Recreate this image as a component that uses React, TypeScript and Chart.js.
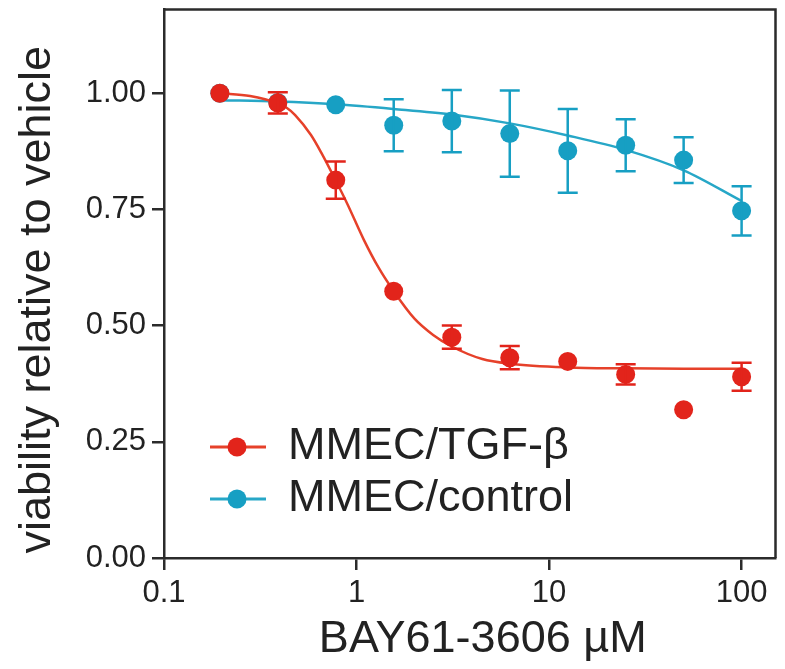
import React, { useEffect, useRef } from 'react';
import { Chart, registerables } from 'chart.js';

Chart.register(...registerables);

// ---- data ----
const doses = [0.195, 0.39, 0.78, 1.56, 3.125, 6.25, 12.5, 25, 50, 100];
const tgfMean = [1.0, 0.979, 0.813, 0.574, 0.475, 0.431, 0.423, 0.395, 0.319, 0.39];
const tgfErr = [0, 0.023, 0.04, 0, 0.025, 0.025, 0, 0.022, 0, 0.03];
const ctrlMean = [1.0, 0.98, 0.975, 0.931, 0.94, 0.913, 0.876, 0.888, 0.856, 0.747];
const ctrlErr = [0, 0, 0, 0.056, 0.067, 0.093, 0.09, 0.056, 0.049, 0.053];

const tgfFitX = [0.195, 0.28, 0.39, 0.435, 0.48, 0.58, 0.66, 0.78, 0.9, 1.09, 1.3, 1.56, 2.0, 2.5, 3.125, 4.5, 6.25, 12.5, 25, 50, 100];
const tgfFitY = [1.0, 0.994, 0.978, 0.968, 0.953, 0.91, 0.87, 0.812, 0.76, 0.685, 0.625, 0.574, 0.515, 0.48, 0.455, 0.428, 0.418, 0.41, 0.408, 0.407, 0.407];
const ctrlFitX = [0.195, 0.39, 0.78, 1.56, 3.125, 6.25, 12.5, 25, 50, 100];
const ctrlFitY = [0.985, 0.982, 0.976, 0.966, 0.954, 0.935, 0.909, 0.878, 0.834, 0.768];

const seriesNames = ['MMEC/TGF-β', 'MMEC/control'];
const xTicks = [0.1, 1, 10, 100];
const yTicks = [0, 0.25, 0.5, 0.75, 1.0];
const xTitle = 'BAY61-3606 µM';
const yTitle = 'viability relative to vehicle';

// ---- styles ----
const RED = '#e2241b';
const RED_LINE = '#e6412a';
const BLUE = '#179fc3';
const BLUE_LINE = '#27a7c7';
const AXIS = '#2b2b2b';
const TEXT = '#222222';
const FONT = '"Liberation Sans", Arial, Helvetica, sans-serif';

export default function App() {
  const ref = useRef<HTMLCanvasElement>(null);

  useEffect(() => {
    const canvas = ref.current;
    if (!canvas) return;

    const errorBars = {
      id: 'errorBars',
      afterDatasetsDraw(chart: any) {
        const { ctx, scales } = chart;
        const xs = scales.x;
        const ys = scales.y;
        const groups = [
          { mean: ctrlMean, err: ctrlErr, color: BLUE },
          { mean: tgfMean, err: tgfErr, color: RED },
        ];
        ctx.save();
        ctx.lineWidth = 2.5;
        for (const g of groups) {
          ctx.strokeStyle = g.color;
          for (let i = 0; i < doses.length; i++) {
            if (!g.err[i]) continue;
            const x = xs.getPixelForValue(doses[i]);
            const y1 = ys.getPixelForValue(g.mean[i] + g.err[i]);
            const y2 = ys.getPixelForValue(g.mean[i] - g.err[i]);
            ctx.beginPath();
            ctx.moveTo(x, y1);
            ctx.lineTo(x, y2);
            ctx.moveTo(x - 10, y1);
            ctx.lineTo(x + 10, y1);
            ctx.moveTo(x - 10, y2);
            ctx.lineTo(x + 10, y2);
            ctx.stroke();
          }
        }
        ctx.restore();
      },
    };

    const frame = {
      id: 'frame',
      afterDraw(chart: any) {
        const { ctx, chartArea: a } = chart;
        ctx.save();
        ctx.strokeStyle = AXIS;
        ctx.lineWidth = 2.5;
        ctx.beginPath();
        ctx.moveTo(a.left, a.top);
        ctx.lineTo(a.right, a.top);
        ctx.lineTo(a.right, a.bottom);
        ctx.stroke();

        // axis titles
        ctx.fillStyle = TEXT;
        ctx.font = `45px ${FONT}`;
        ctx.textAlign = 'center';
        ctx.textBaseline = 'middle';
        ctx.fillText(xTitle, (a.left + a.right) / 2 + 13, 640);
        ctx.save();
        ctx.translate(38, (a.top + a.bottom) / 2 + 16);
        ctx.rotate(-Math.PI / 2);
        ctx.fillText(yTitle, 0, 0);
        ctx.restore();

        // legend
        const items = [
          { label: seriesNames[0], color: RED, line: RED_LINE, y: 447 },
          { label: seriesNames[1], color: BLUE, line: BLUE_LINE, y: 499 },
        ];
        for (const it of items) {
          ctx.strokeStyle = it.line;
          ctx.lineWidth = 3;
          ctx.beginPath();
          ctx.moveTo(a.left + 46, it.y);
          ctx.lineTo(a.left + 102, it.y);
          ctx.stroke();
          ctx.fillStyle = it.color;
          ctx.beginPath();
          ctx.arc(a.left + 73, it.y, 9.5, 0, Math.PI * 2);
          ctx.fill();
          ctx.fillStyle = TEXT;
          ctx.font = `45px ${FONT}`;
          ctx.textAlign = 'left';
          ctx.textBaseline = 'middle';
          ctx.fillText(it.label, a.left + 124, it.y);
        }
        ctx.restore();
      },
    };

    const chart = new Chart(canvas, {
      type: 'scatter',
      data: {
        datasets: [
          {
            label: seriesNames[0],
            data: doses.map((d, i) => ({ x: d, y: tgfMean[i] })),
            showLine: false,
            pointRadius: 9.5,
            pointBackgroundColor: RED,
            pointBorderWidth: 0,
            order: 0,
          },
          {
            label: seriesNames[0] + ' fit',
            data: tgfFitX.map((d, i) => ({ x: d, y: tgfFitY[i] })),
            showLine: true,
            pointRadius: 0,
            borderColor: RED_LINE,
            borderWidth: 2.5,
            cubicInterpolationMode: 'monotone',
            order: 1,
          },
          {
            label: seriesNames[1],
            data: doses.map((d, i) => ({ x: d, y: ctrlMean[i] })),
            showLine: false,
            pointRadius: 9.5,
            pointBackgroundColor: BLUE,
            pointBorderWidth: 0,
            order: 2,
          },
          {
            label: seriesNames[1] + ' fit',
            data: ctrlFitX.map((d, i) => ({ x: d, y: ctrlFitY[i] })),
            showLine: true,
            pointRadius: 0,
            borderColor: BLUE_LINE,
            borderWidth: 2.5,
            cubicInterpolationMode: 'monotone',
            order: 3,
          },
        ] as any,
      },
      options: {
        responsive: false,
        animation: false,
        layout: { padding: { top: 7, right: 2, left: 0, bottom: 0 } },
        plugins: { legend: { display: false }, tooltip: { enabled: false } },
        scales: {
          x: {
            type: 'logarithmic',
            min: 0.1,
            max: 150,
            afterBuildTicks: (s: any) => {
              s.ticks = xTicks.map((v) => ({ value: v }));
            },
            afterFit: (s: any) => {
              s.height = 111;
              s.paddingLeft = 0;
              s.paddingRight = 0;
            },
            ticks: {
              callback: (v: any) => String(v),
              font: { size: 31, family: FONT },
              color: TEXT,
              padding: 5,
              maxRotation: 0,
              autoSkip: false,
            },
            grid: { drawOnChartArea: false, drawTicks: true, tickLength: 12, color: AXIS, lineWidth: 2.5 },
            border: { display: true, color: AXIS, width: 2.5 },
          },
          y: {
            type: 'linear',
            min: 0,
            max: 1.18,
            afterBuildTicks: (s: any) => {
              s.ticks = yTicks.map((v) => ({ value: v }));
            },
            afterFit: (s: any) => {
              s.width = 164;
              s.paddingTop = 0;
              s.paddingBottom = 0;
            },
            ticks: {
              callback: (v: any) => Number(v).toFixed(2),
              font: { size: 31, family: FONT },
              color: TEXT,
              padding: 6,
            },
            grid: { drawOnChartArea: false, drawTicks: true, tickLength: 12, color: AXIS, lineWidth: 2.5 },
            border: { display: true, color: AXIS, width: 2.5 },
          },
        },
      } as any,
      plugins: [errorBars, frame],
    });

    return () => chart.destroy();
  }, []);

  return (
    <div style={{ position: 'fixed', left: 0, top: 0, width: 785, height: 669, background: '#ffffff' }}>
      <canvas ref={ref} width={785} height={669} style={{ display: 'block' }} />
    </div>
  );
}
